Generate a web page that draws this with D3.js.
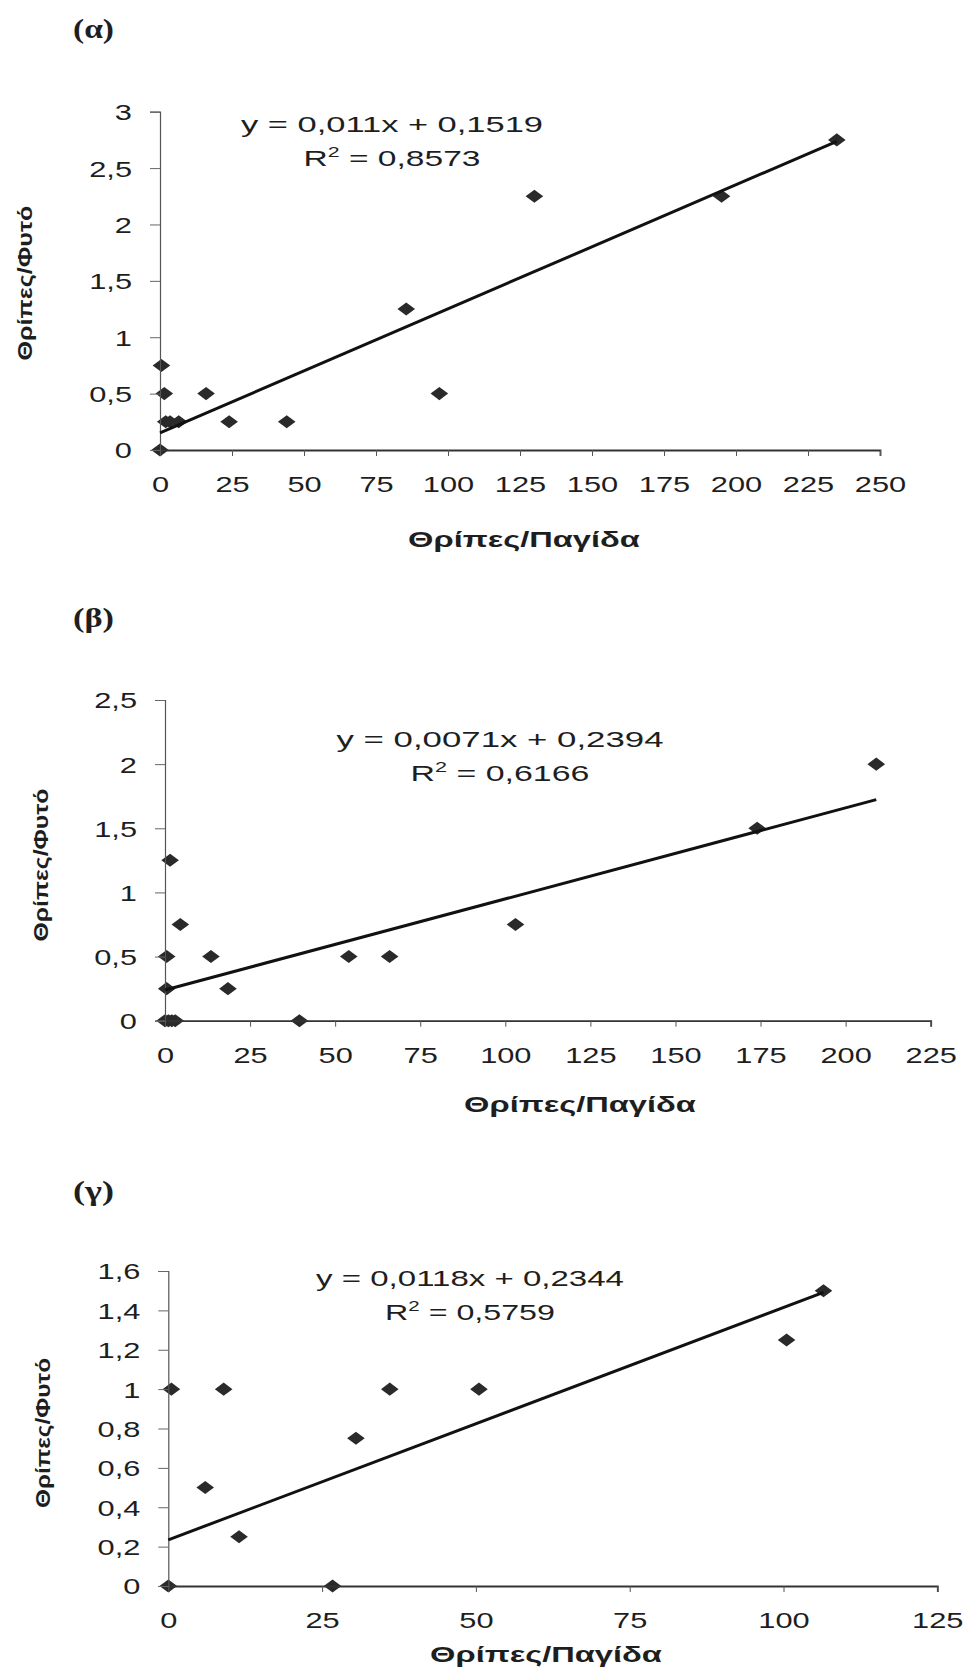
<!DOCTYPE html>
<html>
<head>
<meta charset="utf-8">
<script src="https://cdn.jsdelivr.net/npm/d3@7"></script>
<style>
  body { margin: 0; background: #fff; }
  svg { display: block; }
</style>
</head>
<body>
<script>
// Data

const alphaX = [0, 0.5, 1.5, 2, 3.5, 6.5, 16, 24, 44, 85.5, 97, 130, 195, 235];
const alphaY = [0, 0.75, 0.5, 0.25, 0.25, 0.25, 0.5, 0.25, 0.25, 1.25, 0.5, 2.25, 2.25, 2.75];
const alphaXTicks = [0, 25, 50, 75, 100, 125, 150, 175, 200, 225, 250];
const alphaYTicks = [0, 0.5, 1, 1.5, 2, 2.5, 3];
const alphaFit = [0.011, 0.1519];
const alphaR2 = 0.8573;

const betaX = [0, 1, 2, 3, 0.5, 0.5, 1.5, 4.5, 13.5, 18.5, 39.5, 54, 66, 103, 174, 209];
const betaY = [0, 0, 0, 0, 0.25, 0.5, 1.25, 0.75, 0.5, 0.25, 0, 0.5, 0.5, 0.75, 1.5, 2];
const betaXTicks = [0, 25, 50, 75, 100, 125, 150, 175, 200, 225];
const betaYTicks = [0, 0.5, 1, 1.5, 2, 2.5];
const betaFit = [0.0071, 0.2394];
const betaR2 = 0.6166;

const gammaX = [0, 0.5, 6, 9, 11.5, 26.7, 30.5, 36, 50.5, 100.5, 106.5];
const gammaY = [0, 1, 0.5, 1, 0.25, 0, 0.75, 1, 1, 1.25, 1.5];
const gammaXTicks = [0, 25, 50, 75, 100, 125];
const gammaYTicks = [0, 0.2, 0.4, 0.6, 0.8, 1, 1.2, 1.4, 1.6];
const gammaFit = [0.0118, 0.2344];
const gammaR2 = 0.5759;

const panelLabels = ["(α)", "(β)", "(γ)"];
const xTitle = "Θρίπες/Παγίδα";
const yTitle = "Θρίπες/Φυτό";

// Page

const sans = '"Liberation Sans", Arial, sans-serif';
const serif = '"Liberation Serif", "Times New Roman", serif';
const ink = "#1e1e1e";

const svg = d3.select("body")
  .append("svg")
  .attr("width", 968)
  .attr("height", 1670);

const fmt = d => String(d).replace(".", ",");

// squeeze/stretch a text horizontally to the width it has in the scan
function fitText(sel, tx, ty, width, rotate) {
  const len = sel.node().getComputedTextLength();
  sel.attr("transform", `translate(${tx},${ty})` + (rotate ? " rotate(-90)" : "") + ` scale(${width / len},1)`);
}

function plotGraph(xs, ys, xTicks, yTicks, fit, r2, label, L) {
  const x = d3.scaleLinear()
    .domain([xTicks[0], xTicks[xTicks.length - 1]])
    .range([L.left, L.right]);
  const y = d3.scaleLinear()
    .domain([yTicks[0], yTicks[yTicks.length - 1]])
    .range([L.bottom, L.top]);

  // points
  svg.append("g")
    .selectAll("path")
    .data(d3.zip(xs, ys))
    .join("path")
    .attr("d", d3.symbol(d3.symbolSquare, 85))
    .attr("transform", d => `translate(${x(d[0])},${y(d[1])}) scale(1.35,1) rotate(45)`)
    .attr("fill", "#2a2a2a");

  // x axis
  const gx = svg.append("g")
    .attr("transform", `translate(0,${L.bottom})`)
    .call(d3.axisBottom(x).tickValues(xTicks).tickFormat(fmt).tickSize(6).tickSizeOuter(6));
  gx.attr("font-family", sans).attr("font-size", 22);
  gx.select(".domain").attr("stroke", "#333").attr("stroke-width", 1.8);
  gx.selectAll(".tick line").attr("stroke", "#555");
  gx.selectAll(".tick text")
    .attr("y", 42).attr("dy", null)
    .attr("fill", ink)
    .attr("transform", "scale(1.4,1)");

  // y axis
  const gy = svg.append("g")
    .attr("transform", `translate(${L.left},0)`)
    .call(d3.axisLeft(y).tickValues(yTicks).tickFormat(fmt).tickSize(10).tickSizeOuter(10));
  gy.attr("font-family", sans).attr("font-size", 22);
  gy.select(".domain").attr("stroke", "#555").attr("stroke-width", 1.2);
  gy.selectAll(".tick line").attr("stroke", "#666");
  gy.selectAll(".tick text")
    .attr("x", -20).attr("dy", "0.36em")
    .attr("fill", ink)
    .attr("transform", "scale(1.4,1)");

  // trend line over the data range
  const ext = d3.extent(xs);
  svg.append("path")
    .datum(ext.map(v => [v, fit[0] * v + fit[1]]))
    .attr("fill", "none")
    .attr("stroke", "#111")
    .attr("stroke-width", 3)
    .attr("d", d3.line().x(d => x(d[0])).y(d => y(d[1])));

  // equation and R²
  const eq = svg.append("text")
    .attr("font-family", sans).attr("font-size", 22).attr("fill", ink)
    .attr("text-anchor", "middle")
    .text(`y = ${fmt(fit[0])}x + ${fmt(fit[1])}`);
  fitText(eq, L.eqX, L.eqY, L.eqW);

  const rt = svg.append("text")
    .attr("font-family", sans).attr("font-size", 22).attr("fill", ink)
    .attr("text-anchor", "middle");
  rt.append("tspan").text("R");
  rt.append("tspan").attr("font-size", 14).attr("dy", -9).text("2");
  rt.append("tspan").attr("dy", 9).text(` = ${fmt(r2)}`);
  fitText(rt, L.eqX, L.eqY + 34, L.r2W);

  // panel label
  const pl = svg.append("text")
    .attr("font-family", serif).attr("font-size", 28).attr("font-weight", "bold").attr("fill", ink)
    .text(label);
  fitText(pl, 73, L.labelY, 41);

  // axis titles
  const xt = svg.append("text")
    .attr("font-family", sans).attr("font-size", 22).attr("font-weight", "bold").attr("fill", ink)
    .attr("text-anchor", "middle")
    .text(xTitle);
  fitText(xt, L.xtX, L.xtY, 232);

  const yt = svg.append("text")
    .attr("font-family", sans).attr("font-size", 21).attr("font-weight", "bold").attr("fill", ink)
    .attr("text-anchor", "middle")
    .text(yTitle);
  fitText(yt, L.ytX, L.ytY, L.ytW, true);
}

plotGraph(alphaX, alphaY, alphaXTicks, alphaYTicks, alphaFit, alphaR2, panelLabels[0], {
  left: 160, right: 880, top: 111.7, bottom: 450,
  eqX: 392, eqY: 132, eqW: 302, r2W: 177,
  labelY: 38, xtX: 524, xtY: 547, ytX: 32, ytY: 283, ytW: 155
});

plotGraph(betaX, betaY, betaXTicks, betaYTicks, betaFit, betaR2, panelLabels[1], {
  left: 165, right: 930.7, top: 700, bottom: 1020.7,
  eqX: 500, eqY: 747, eqW: 327, r2W: 179,
  labelY: 627, xtX: 580, xtY: 1112, ytX: 48, ytY: 865, ytW: 153
});

plotGraph(gammaX, gammaY, gammaXTicks, gammaYTicks, gammaFit, gammaR2, panelLabels[2], {
  left: 168.3, right: 937.3, top: 1271, bottom: 1586,
  eqX: 470, eqY: 1286, eqW: 308, r2W: 170,
  labelY: 1200, xtX: 546, xtY: 1662, ytX: 50, ytY: 1433, ytW: 150
});
</script>
</body>
</html>
